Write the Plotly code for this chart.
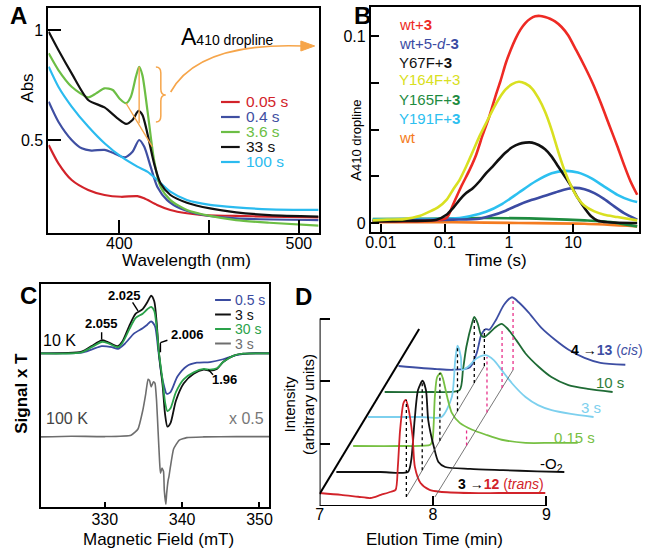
import plotly.graph_objects as go

W, H = 649, 552
FONT = "Liberation Sans, Arial, sans-serif"

# ---------------- Panel A : spectra (wavelength nm, absorbance) ----------------
a_wl_005 = [360.6, 366, 373.4, 382.6, 391.7, 401, 410, 413.8, 421, 428.4, 437.6, 446.8, 465, 483.5, 511]
a_abs_005 = [0.477, 0.394, 0.318, 0.273, 0.250, 0.242, 0.245, 0.235, 0.205, 0.182, 0.167, 0.159, 0.155, 0.152, 0.148]
a_wl_04 = [360.6, 366, 373.4, 379, 384.4, 391.7, 397.2, 402.8, 407.3, 411, 413.8, 417.4, 421.1, 426.6, 434, 446.8, 465, 511]
a_abs_04 = [0.674, 0.583, 0.500, 0.462, 0.452, 0.455, 0.439, 0.421, 0.447, 0.500, 0.470, 0.379, 0.288, 0.227, 0.189, 0.159, 0.144, 0.136]
a_wl_36 = [360.6, 366, 373.4, 382.6, 387, 391.7, 396.3, 400, 403.7, 406.4, 409.2, 411, 412.8, 415.6, 419.3, 422.9, 428.4, 437.6, 450.5, 465, 483.5, 511]
a_abs_36 = [0.894, 0.818, 0.742, 0.694, 0.712, 0.735, 0.727, 0.689, 0.667, 0.697, 0.788, 0.833, 0.795, 0.636, 0.409, 0.288, 0.227, 0.182, 0.155, 0.136, 0.124, 0.111]
a_wl_33 = [360.6, 366, 373.4, 382.6, 391.7, 399, 403.7, 407.3, 410.6, 412.8, 415.6, 419.3, 422.9, 428.4, 437.6, 450.5, 465, 483.5, 511]
a_abs_33 = [0.992, 0.909, 0.803, 0.682, 0.648, 0.598, 0.573, 0.591, 0.632, 0.614, 0.530, 0.394, 0.303, 0.250, 0.215, 0.189, 0.171, 0.159, 0.152]
a_wl_100 = [360.6, 366, 373.4, 382.6, 391.7, 401, 410, 415.6, 421.1, 428.4, 437.6, 450.5, 465, 483.5, 511]
a_abs_100 = [0.833, 0.742, 0.652, 0.561, 0.485, 0.424, 0.379, 0.356, 0.318, 0.265, 0.227, 0.205, 0.194, 0.185, 0.182]
a_labels = ["0.05 s", "0.4 s", "3.6 s", "33 s", "100 s"]
a_drop_base_wl = [403.7, 418.3]
a_drop_base_abs = [0.667, 0.470]
a_drop_peak_wl = 411
a_drop_peak_abs = [0.833, 0.576]

# ---------------- Panel B : A410 dropline kinetics ----------------
b_t_red = [0.0075, 0.0229, 0.0588, 0.106, 0.134, 0.180, 0.243, 0.307, 0.389, 0.492, 0.624, 0.745, 0.889, 1.06, 1.27, 1.51, 1.80, 2.15, 2.57, 3.07, 3.66, 4.37, 5.22, 6.62, 8.37, 11.2, 15.1, 20.3, 27.3, 36.6, 49.2, 62.4, 78.9, 100]
b_y_red = [0.0009, 0.0009, 0.0012, 0.0027, 0.0098, 0.0195, 0.0284, 0.0364, 0.0471, 0.0568, 0.0684, 0.0764, 0.0853, 0.0924, 0.0986, 0.1034, 0.1069, 0.1092, 0.1105, 0.1107, 0.1101, 0.1092, 0.1078, 0.1048, 0.1004, 0.0924, 0.0838, 0.0746, 0.0639, 0.0524, 0.0409, 0.0311, 0.0222, 0.0151]
b_t_blue = [0.0075, 0.134, 0.345, 0.555, 0.889, 1.43, 2.29, 3.66, 5.87, 8.37, 10.6, 15.1, 21.5, 30.7, 43.8, 62.4, 100]
b_y_blue = [0.0014, 0.0018, 0.0023, 0.0041, 0.0066, 0.0098, 0.0124, 0.0146, 0.0169, 0.0183, 0.0188, 0.0181, 0.0160, 0.0128, 0.0089, 0.0053, 0.0018]
b_t_black = [0.0075, 0.0229, 0.0744, 0.106, 0.134, 0.170, 0.215, 0.273, 0.345, 0.438, 0.555, 0.702, 0.889, 1.12, 1.43, 1.80, 2.29, 2.90, 3.66, 4.64, 5.87, 7.45, 9.42, 11.9, 15.1, 19.1, 24.3, 34.5, 100]
b_y_black = [0.0009, 0.0011, 0.0018, 0.0044, 0.0080, 0.0124, 0.0160, 0.0186, 0.0222, 0.0266, 0.0302, 0.0341, 0.0377, 0.0405, 0.0423, 0.0430, 0.0430, 0.0417, 0.0394, 0.0355, 0.0302, 0.0249, 0.0195, 0.0133, 0.0080, 0.0036, 0.0012, 0.0004, 0.0]
b_t_yellow = [0.0075, 0.0127, 0.0229, 0.0412, 0.0588, 0.0789, 0.106, 0.134, 0.170, 0.215, 0.273, 0.345, 0.438, 0.555, 0.702, 0.889, 1.12, 1.43, 1.80, 2.29, 2.90, 3.66, 4.64, 5.87, 7.45, 9.42, 11.9, 15.1, 21.5, 30.7, 49.2, 100]
b_y_yellow = [0.0014, 0.0018, 0.0021, 0.0039, 0.0062, 0.0085, 0.0124, 0.0178, 0.0231, 0.0302, 0.0382, 0.0462, 0.0533, 0.0604, 0.0666, 0.0714, 0.0742, 0.0755, 0.0746, 0.0719, 0.0666, 0.0595, 0.0497, 0.0382, 0.0275, 0.0195, 0.0133, 0.0092, 0.0062, 0.0044, 0.0032, 0.0014]
b_t_green = [0.0075, 0.0412, 0.438, 4.64, 15.1, 38.9, 100]
b_y_green = [0.0021, 0.0023, 0.0027, 0.0021, 0.0014, 0.0005, -0.0018]
b_t_cyan = [0.0075, 0.0412, 0.170, 0.243, 0.438, 0.789, 1.43, 2.57, 4.64, 7.45, 11.9, 19.1, 30.7, 49.2, 78.9, 100]
b_y_cyan = [0.0018, 0.0021, 0.0027, 0.0036, 0.0060, 0.0103, 0.0163, 0.0222, 0.0266, 0.0279, 0.0270, 0.0240, 0.0195, 0.0151, 0.0121, 0.0112]
b_t_orange = [0.0075, 0.134, 1.43, 15.1, 100]
b_y_orange = [0.0004, 0.0004, 0.0, -0.0004, -0.0018]
b_labels = ["wt+<b>3</b>", "wt+5-<i>d</i>-<b>3</b>", "Y67F+<b>3</b>", "Y164F+3", "Y165F+<b>3</b>", "Y191F+<b>3</b>", "wt"]

# ---------------- Panel C : EPR (field mT, signal x T, arb.) ----------------
c_f_05 = [321.7, 327.0, 328.3, 329.6, 330.9, 331.7, 332.6, 333.8, 334.9, 335.5, 336.0, 336.5, 336.9, 337.3, 337.7, 338.0, 338.5, 339.4, 340.6, 341.9, 343.6, 345.3, 347.0, 348.7, 351.3]
c_s_05 = [0, 0.02, 0.11, 0.21, 0.18, 0.13, 0.28, 0.58, 0.73, 0.83, 0.93, 0.78, 0.13, -0.57, -0.97, -1.17, -1.12, -0.67, -0.37, -0.27, -0.25, -0.17, -0.05, 0, 0]
c_f_3 = [321.7, 327.0, 328.3, 329.6, 330.4, 331.7, 332.3, 333.2, 334.0, 334.9, 335.5, 336.0, 336.4, 336.7, 337.0, 337.5, 337.8, 338.1, 338.5, 339.2, 340.2, 341.5, 342.8, 343.6, 344.5, 345.3, 346.6, 347.9, 351.3]
c_s_3 = [0, 0.05, 0.21, 0.38, 0.33, 0.21, 0.35, 0.81, 1.15, 1.28, 1.48, 1.67, 1.51, 0.93, 0.03, -0.97, -1.77, -2.12, -2.02, -1.37, -0.87, -0.59, -0.47, -0.50, -0.45, -0.25, -0.07, -0.01, 0]
c_s_30 = [0, 0.03, 0.18, 0.33, 0.30, 0.18, 0.31, 0.71, 1.03, 1.15, 1.28, 1.35, 1.23, 0.78, 0.03, -0.82, -1.42, -1.67, -1.59, -1.12, -0.75, -0.55, -0.45, -0.47, -0.43, -0.25, -0.07, -0.01, 0]
c_f_100k = [321.7, 325.7, 330.0, 333.4, 334.3, 334.9, 335.3, 335.6, 335.8, 336.0, 336.3, 336.5, 336.7, 336.9, 337.1, 337.2, 337.4, 337.6, 337.7, 337.9, 338.0, 338.2, 338.3, 338.5, 338.9, 339.6, 340.6, 342.8, 347.0, 351.3]
c_s_100k = [-0.02, 0, -0.01, 0.03, 0.21, 0.73, 1.23, 1.65, 1.61, 1.43, 1.58, 1.53, 1.03, 0.13, -0.77, -1.07, -0.92, -1.02, -1.57, -1.97, -1.67, -1.27, -1.17, -0.87, -0.37, -0.12, -0.04, -0.02, -0.01, -0.01]
c_labels = ["0.5 s", "3 s", "30 s", "3 s"]
c_g_labels = ["2.055", "2.025", "2.006", "1.96"]

# ---------------- Panel D : HPLC traces (elution min, intensity arb.) ----------------
d_t_red = [7.0, 7.19, 7.34, 7.45, 7.54, 7.63, 7.67, 7.69, 7.71, 7.74, 7.76, 7.78, 7.82, 7.84, 7.89, 7.97, 8.06, 8.32, 8.58, 8.99]
d_i_red = [0, -0.03, -0.06, -0.08, -0.03, 0.02, 0.05, 0.42, 1.01, 1.44, 1.49, 1.38, 0.90, 0.42, 0.16, 0.05, 0.02, 0.0, 0.0, 0.0]
d_t_black = [7.0, 7.39, 7.63, 7.66, 7.69, 7.72, 7.76, 7.79, 7.81, 7.86, 7.90, 7.96, 8.18, 8.47, 8.77, 9.01]
d_i_black = [0, 0.0, 0.0, 0.19, 0.83, 1.31, 1.46, 1.31, 0.83, 0.40, 0.16, 0.08, 0.05, 0.03, 0.01, 0.0]
d_t_015 = [7.0, 7.42, 7.68, 7.70, 7.72, 7.74, 7.77, 7.79, 7.83, 7.87, 7.94, 8.05, 8.17, 8.31, 8.52, 8.75, 8.98]
d_i_015 = [0, 0.0, 0.02, 0.10, 0.78, 1.10, 1.17, 1.09, 0.78, 0.53, 0.37, 0.26, 0.18, 0.10, 0.05, 0.05, 0.05]
d_t_3 = [7.0, 7.46, 7.65, 7.74, 7.77, 7.79, 7.82, 7.83, 7.88, 7.96, 8.04, 8.11, 8.18, 8.27, 8.39, 8.50, 8.62, 8.79, 8.99]
d_i_3 = [0, 0.0, 0.0, 0.32, 0.91, 1.14, 0.96, 0.75, 0.80, 0.94, 0.99, 0.91, 0.75, 0.54, 0.32, 0.19, 0.11, 0.05, 0.0]
d_t_10 = [7.0, 7.40, 7.66, 7.69, 7.72, 7.77, 7.79, 7.82, 7.85, 7.88, 7.92, 7.98, 8.03, 8.08, 8.16, 8.24, 8.36, 8.47, 8.62, 8.79, 9.01]
d_i_10 = [0, 0.0, 0.03, 0.35, 0.72, 1.10, 1.20, 1.10, 0.91, 0.88, 0.94, 1.04, 1.09, 1.02, 0.83, 0.62, 0.40, 0.24, 0.11, 0.05, 0.0]
d_t_cis = [7.0, 7.34, 7.48, 7.63, 7.69, 7.73, 7.77, 7.80, 7.86, 7.93, 8.00, 8.06, 8.15, 8.26, 8.38, 8.50, 8.64, 8.78, 9.0]
d_i_cis = [0, -0.05, -0.06, -0.02, 0.21, 0.50, 0.59, 0.58, 0.74, 0.98, 1.10, 1.02, 0.85, 0.61, 0.42, 0.26, 0.13, 0.05, 0.02]
d_peak1_t = [7.765, 7.757, 7.765, 7.79, 7.79, 7.757]      # trans peak positions (black dotted)
d_peak1_i = [1.49, 1.46, 1.17, 1.14, 1.20, 0.59]
d_peak2_t = [8.00, 8.05, 8.035, 8.01]                     # cis peak positions (pink dotted)
d_peak2_i = [0.26, 0.96, 1.02, 1.07]

# ---------------- styling / layout constants ----------------
A_COL = ["#D2232A", "#3F4FA2", "#6CBE45", "#111111", "#2BBBEF"]
B_COL = ["#EE2A24", "#3B4BA3", "#111111", "#D9E021", "#1E8B3F", "#2CC0F0", "#F47B20"]
C_COL = ["#3A4BA0", "#111111", "#2AA24A", "#6E6E6E"]
D_COL = ["#D2232A", "#111111", "#77C043", "#7DD0EE", "#1F6B35", "#3D4EA3"]
ORANGE = "#F6A54A"
PINK = "#E8308A"
C_OFF_10K, C_OFF_100K = 4.45, 2.05
D_SHIFT = [0, 0.148, 0.296, 0.426, 0.574, 0.696]
D_BASE = [0.208, 0.544, 0.96, 1.424, 1.824, 2.24]


def PX(x):
    return x / W


def PY(y):
    return 1 - y / H


fig = go.Figure()


def line(xs, ys, color, xa, ya, width=2.0, smooth=0.7):
    fig.add_trace(go.Scatter(x=xs, y=ys, mode="lines", xaxis=xa, yaxis=ya,
                             line=dict(color=color, width=width, shape="spline", smoothing=smooth),
                             showlegend=False, hoverinfo="skip"))


# A traces
for xs, ys, c in [(a_wl_005, a_abs_005, A_COL[0]), (a_wl_04, a_abs_04, A_COL[1]),
                  (a_wl_100, a_abs_100, A_COL[4]), (a_wl_36, a_abs_36, A_COL[2]),
                  (a_wl_33, a_abs_33, A_COL[3])]:
    line(xs, ys, c, "x", "y", 2.2)

# B traces
for xs, ys, c in [(b_t_orange, b_y_orange, B_COL[6]), (b_t_green, b_y_green, B_COL[4]),
                  (b_t_cyan, b_y_cyan, B_COL[5]), (b_t_blue, b_y_blue, B_COL[1]),
                  (b_t_red, b_y_red, B_COL[0]), (b_t_black, b_y_black, B_COL[2]),
                  (b_t_yellow, b_y_yellow, B_COL[3])]:
    line(xs, ys, c, "x2", "y2", 2.6)

# C traces
line(c_f_100k, [s + C_OFF_100K for s in c_s_100k], C_COL[3], "x3", "y3", 1.6, 0.4)
line(c_f_05, [s + C_OFF_10K for s in c_s_05], C_COL[0], "x3", "y3", 1.8)
line(c_f_3, [s + C_OFF_10K for s in c_s_3], C_COL[1], "x3", "y3", 1.8)
line(c_f_3, [s + C_OFF_10K for s in c_s_30], C_COL[2], "x3", "y3", 1.8)

# D traces (waterfall: each trace shifted in time and baseline)
d_sets = [(d_t_red, d_i_red), (d_t_black, d_i_black), (d_t_015, d_i_015),
          (d_t_3, d_i_3), (d_t_10, d_i_10), (d_t_cis, d_i_cis)]
for k in range(len(d_sets) - 1, -1, -1):
    ts, ii = d_sets[k]
    line([t + D_SHIFT[k] for t in ts], [v + D_BASE[k] for v in ii], D_COL[k], "x4", "y4", 1.8)

shapes = []

# A dropline construction
shapes.append(dict(type="line", xref="x", yref="y", x0=a_drop_base_wl[0], y0=a_drop_base_abs[0],
                   x1=a_drop_base_wl[1], y1=a_drop_base_abs[1], line=dict(color=ORANGE, width=1.4)))
shapes.append(dict(type="line", xref="x", yref="y", x0=a_drop_peak_wl, y0=a_drop_peak_abs[0],
                   x1=a_drop_peak_wl, y1=a_drop_peak_abs[1], line=dict(color=ORANGE, width=1.4)))


def path(pts):
    out = []
    for p in pts:
        if isinstance(p, str):
            out.append(p)
        else:
            out.append("%.5f,%.5f" % (PX(p[0]), PY(p[1])))
    return " ".join(out)


# bracket
shapes.append(dict(type="path", xref="paper", yref="paper",
                   path=path(["M", (152, 67), "Q", (157, 67), (157, 73), "L", (157, 89), "Q", (157, 95), (162, 95),
                              "Q", (157, 95), (157, 101), "L", (157, 116), "Q", (157, 122), (152, 122)]),
                   line=dict(color=ORANGE, width=1.5)))
# curved arrow
shapes.append(dict(type="path", xref="paper", yref="paper",
                   path=path(["M", (167, 92), "Q", (195, 42), (302, 46)]),
                   line=dict(color=ORANGE, width=1.6)))
shapes.append(dict(type="path", xref="paper", yref="paper",
                   path=path(["M", (299, 41), "L", (313, 46), "L", (299, 51), "Z"]),
                   fillcolor=ORANGE, line=dict(color=ORANGE, width=1)))

# legends (A, C) line swatches
a_leg_y = [102, 117, 132, 147, 162]
for k, yy in enumerate(a_leg_y):
    shapes.append(dict(type="line", xref="paper", yref="paper", x0=PX(218), x1=PX(237), y0=PY(yy), y1=PY(yy),
                       line=dict(color=A_COL[k], width=2.2)))
c_leg_y = [300, 314.5, 329, 343.5]
for k, yy in enumerate(c_leg_y):
    shapes.append(dict(type="line", xref="paper", yref="paper", x0=PX(212), x1=PX(228), y0=PY(yy), y1=PY(yy),
                       line=dict(color=C_COL[k], width=2)))

# C leader lines
for (x0, y0, x1, y1) in [(329.6, 5.06, 329.6, 4.85), (333.6, 5.93, 334.3, 5.68),
                         (338.1, 4.83, 337.2, 4.76), (337.2, 4.76, 337.2, 4.48), (343.4, 3.98, 344.0, 3.83)]:
    shapes.append(dict(type="line", xref="x3", yref="y3", x0=x0, y0=y0, x1=x1, y1=y1,
                       line=dict(color="black", width=1.4)))

# D axes frame
shapes.append(dict(type="line", xref="x4", yref="y4", x0=7, y0=0, x1=7, y1=3.0, line=dict(color="black", width=2)))
shapes.append(dict(type="line", xref="x4", yref="y4", x0=7, y0=0, x1=9, y1=0, line=dict(color="black", width=2)))
shapes.append(dict(type="line", xref="x4", yref="y4", x0=7, y0=0.192, x1=7.878, y1=2.832,
                   line=dict(color="black", width=2)))

# D guide lines and dotted peak markers
g1 = (d_peak1_t[0] + D_SHIFT[0], 0.144, d_peak1_t[5] + D_SHIFT[5], D_BASE[5])
g2 = (8.017, 0.144, d_peak2_t[3] + D_SHIFT[5], 2.176)
for g in (g1, g2):
    shapes.append(dict(type="line", xref="x4", yref="y4", x0=g[0], y0=g[1], x1=g[2], y1=g[3],
                       line=dict(color="#555555", width=0.8)))


def on_guide(g, x):
    return g[1] + (x - g[0]) * (g[3] - g[1]) / (g[2] - g[0])


for k in range(6):
    x = d_peak1_t[k] + D_SHIFT[k]
    shapes.append(dict(type="line", xref="x4", yref="y4", x0=x, x1=x, y0=on_guide(g1, x),
                       y1=D_BASE[k] + d_peak1_i[k], line=dict(color="black", width=1.3, dash="dot")))
for j, k in enumerate([2, 3, 4, 5]):
    x = d_peak2_t[j] + D_SHIFT[k]
    shapes.append(dict(type="line", xref="x4", yref="y4", x0=x, x1=x, y0=on_guide(g2, x),
                       y1=D_BASE[k] + d_peak2_i[j], line=dict(color=PINK, width=1.3, dash="dot")))

annotations = []


def ann(text, x, y, size=16, color="black", xanchor="center", yanchor="middle", angle=0):
    annotations.append(dict(text=text, x=PX(x), y=PY(y), xref="paper", yref="paper", showarrow=False,
                            xanchor=xanchor, yanchor=yanchor, textangle=angle,
                            font=dict(family=FONT, size=size, color=color)))


# panel letters
for t, x, y in [("A", 13, 15), ("B", 362, 15), ("C", 23, 295), ("D", 302, 297)]:
    ann("<b>%s</b>" % t, x, y, 24)

# A texts
ann("A<span style='font-size:14px'>410 dropline</span>", 175, 37, 23, xanchor="left")
for k, yy in enumerate(a_leg_y):
    ann(a_labels[k], 241, yy, 15.5, A_COL[k], xanchor="left")
ann("Wavelength (nm)", 183, 260, 17)
ann("Abs", 21, 88, 17, angle=-90)

# B texts
b_leg_y = [25, 43, 62, 80, 99, 118, 137]
for k, yy in enumerate(b_leg_y):
    ann(b_labels[k], 397, yy, 15, B_COL[k], xanchor="left")
ann("Time (s)", 497, 260, 17)
ann("A<span style='font-size:13px'>410 dropline</span>", 354, 140, 15, angle=-90)

# C texts
for k, yy in enumerate(c_leg_y):
    ann(c_labels[k], 230, yy, 14, C_COL[k], xanchor="left")
for t, x, y in zip(c_g_labels, [97, 120, 184, 222], [323, 295, 334, 379]):
    ann("<b>%s</b>" % t, x, y, 13)
ann("10 K", 54, 340, 16)
ann("100 K", 62, 418, 16, "#444444")
ann("x 0.5", 244, 418, 16, "#777777")
ann("Magnetic Field (mT)", 155, 539, 17)
ann("<b>Signal x T</b>", 15, 393, 17, angle=-90)

# D texts
ann("<b>4</b> <b>\u2192</b><b><span style='color:#3D4EA3'>13</span></b><span style='color:#3D4EA3'> (<i>cis</i>)</span>",
    571, 350, 14, xanchor="left")
ann("10 s", 612, 382, 15, "#2E7D3A")
ann("3 s", 593, 407, 15, "#7DD0EE")
ann("0.15 s", 577, 437, 15, "#77C043")
ann("-O<sub>2</sub>", 553, 464, 15)
ann("<b>3</b> <b>\u2192</b><b><span style='color:#D2232A'>12</span></b><span style='color:#D2232A'> (<i>trans</i>)</span>",
    502, 484, 14)
ann("Elution Time (min)", 435, 539, 17)
ann("Intensity<br>(arbitrary units)", 297, 404, 15, angle=-90)

tickfont = dict(family=FONT, size=16, color="black")
frame = dict(showline=True, linewidth=2, linecolor="black", mirror=True, showgrid=False, zeroline=False,
             ticks="inside", tickwidth=2, tickcolor="black", tickfont=tickfont, fixedrange=True)

fig.update_layout(
    width=W, height=H, margin=dict(l=0, r=0, t=0, b=0),
    paper_bgcolor="white", plot_bgcolor="rgba(0,0,0,0)",
    showlegend=False,
    xaxis=dict(domain=[PX(43), PX(317)], range=[360.44, 511], tickvals=[400, 500],
               ticktext=["400", "500"], ticklen=13, anchor="y", ticklabelstandoff=-5,
               minor=dict(tickvals=[450], ticklen=13, tickwidth=2, tickcolor="black", ticks="inside"), **frame),
    yaxis=dict(domain=[PY(233), PY(8)], range=[0.0773, 1.1], tickvals=[0.5, 1], ticktext=["0.5", "1"],
               ticklen=13, anchor="x", **frame),
    xaxis2=dict(domain=[PX(370), PX(642)], type="log", range=[-2.154, 2.03], tickvals=[0.01, 0.1, 1, 10],
                ticktext=["0.01", "0.1", "1", "10"], ticklen=8, anchor="y2", ticklabelstandoff=-5, **frame),
    yaxis2=dict(domain=[PY(232), PY(7)], range=[-0.0048, 0.1155], tickvals=[0, 0.1],
                ticktext=["0", "0.1"], ticklen=8, anchor="x2",
                minor=dict(tickvals=[0.025, 0.05, 0.075], ticklen=8, tickwidth=2, tickcolor="black", ticks="inside"),
                **frame),
    xaxis3=dict(domain=[PX(35), PX(267)], range=[321.7, 351.27], tickvals=[330, 340, 350],
                ticklen=5, anchor="y3", ticklabelstandoff=-3, **frame),
    yaxis3=dict(domain=[PY(507), PY(284)], range=[0, 6.46], showticklabels=False, anchor="x3",
                **{k: v for k, v in frame.items() if k != "ticks"}, ticks=""),
    xaxis4=dict(domain=[PX(318), PX(640)], range=[7, 9.8], tickvals=[7, 8, 9], ticks="inside", ticklen=10,
                tickwidth=2, tickcolor="black", showline=False, showgrid=False, zeroline=False,
                tickfont=tickfont, anchor="y4", ticklabelstandoff=-3, fixedrange=True),
    yaxis4=dict(domain=[PY(506), PY(290)], range=[0, 3.456], tickvals=[1, 2, 3], ticks="inside", ticklen=10,
                tickwidth=2, tickcolor="black", showline=False, showgrid=False, zeroline=False,
                showticklabels=False, anchor="x4", fixedrange=True),
    shapes=shapes,
    annotations=annotations,
)

fig.write_html("out.html", config={"displayModeBar": False},
               post_script="document.body.style.margin='0px';document.body.style.overflow='hidden';")
